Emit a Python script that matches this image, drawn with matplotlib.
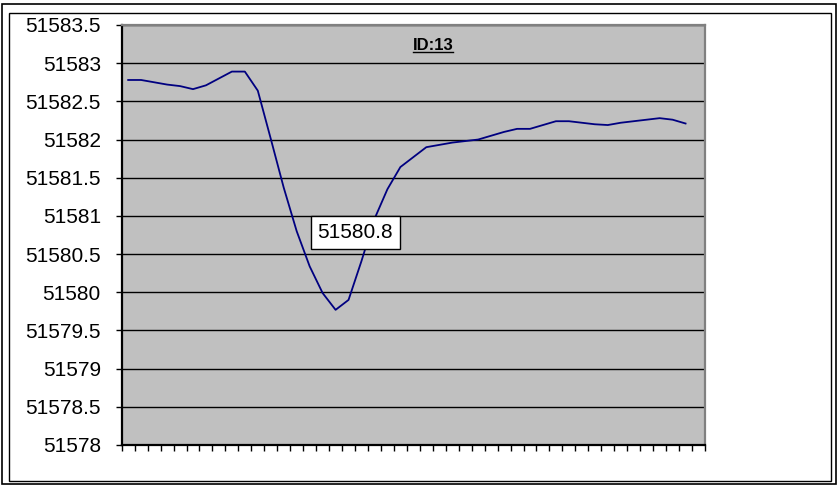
import matplotlib
matplotlib.use("Agg")
import matplotlib.pyplot as plt
import numpy as np
from matplotlib.patches import Rectangle

plt.rcParams['font.family'] = ['Liberation Sans', 'DejaVu Sans']

## Values, one per category (45 categories, last one empty)
values = [51582.78, 51582.78, 51582.75, 51582.72, 51582.70, 51582.66, 51582.71,
          51582.80, 51582.89, 51582.89, 51582.64, 51582.01, 51581.37, 51580.80,
          51580.34, 51579.99, 51579.77, 51579.90, 51580.41, 51580.96, 51581.35,
          51581.64, 51581.77, 51581.90, 51581.93, 51581.96, 51581.98, 51582.00,
          51582.05, 51582.10, 51582.14, 51582.14, 51582.19, 51582.24, 51582.24,
          51582.22, 51582.20, 51582.19, 51582.22, 51582.24, 51582.26, 51582.28,
          51582.26, 51582.21]
n_categories = 45
yticks = [51578 + 0.5 * k for k in range(12)]
title = "ID:13"
label_index = 13
label_text = "51580.8"

fig = plt.figure(figsize=(8.38, 4.87), dpi=100)
ax = fig.add_axes([121.7 / 838, 42 / 487, 583.3 / 838, 420 / 487])
ax.set_facecolor("#c0c0c0")

xs = np.arange(len(values))
ax.plot(xs, values, color="#000080", lw=1.3, zorder=3)

ax.set_xlim(-0.5, n_categories - 0.5)
ax.set_ylim(yticks[0], yticks[-1])
ax.set_yticks(yticks)
ax.set_yticklabels([("%g" % v) for v in yticks])
ax.set_xticks(np.arange(n_categories + 1) - 0.5)
ax.set_xticklabels([])
ax.tick_params(axis="y", direction="out", length=4, width=1, pad=11, labelsize=15)
ax.tick_params(axis="x", direction="out", length=4, width=1)
ax.yaxis.grid(True, color="black", lw=1)
ax.set_axisbelow(True)

for side in ["left", "bottom"]:
    ax.spines[side].set_color("black")
    ax.spines[side].set_linewidth(1.6)
for side in ["top", "right"]:
    ax.spines[side].set_color("#808080")
    ax.spines[side].set_linewidth(1.6)

# data label to the right of the point
ax.annotate(label_text, xy=(label_index, values[label_index]), xytext=(15, -1),
            textcoords="offset points", va="center", ha="left", fontsize=15,
            bbox=dict(boxstyle="square,pad=0.33", fc="white", ec="black", lw=1),
            zorder=5)

t = fig.text(433 / 838, 1 - 45 / 487, title, ha="center", va="center",
             fontsize=12, fontweight="bold", color="black")
# underline the title
fig.canvas.draw()
bb = t.get_window_extent()
fig.add_artist(plt.Line2D([bb.x0 / 838, bb.x1 / 838], [(bb.y0 + 1) / 487, (bb.y0 + 1) / 487],
                          transform=fig.transFigure, color="black", lw=1))

# outer chart frames
fig.add_artist(Rectangle((2 / 838, 3 / 487), 834 / 838, 480 / 487, transform=fig.transFigure,
                         fill=False, ec="black", lw=1.2))
fig.add_artist(Rectangle((9 / 838, 6 / 487), 822 / 838, 468 / 487, transform=fig.transFigure,
                         fill=False, ec="black", lw=1))

fig.savefig("out.png", dpi=100)
